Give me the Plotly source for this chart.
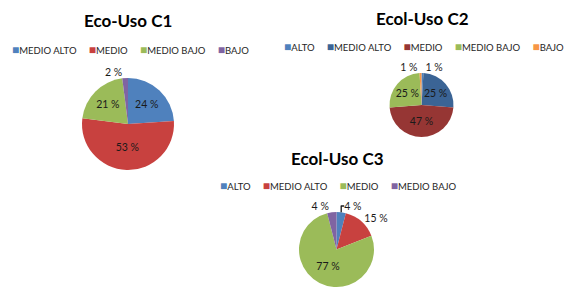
import plotly.graph_objects as go

# ---- data ----
c1_labels = ["MEDIO ALTO", "MEDIO", "MEDIO BAJO", "BAJO"]
c1_values = [24, 53, 21, 2]
c1_colors = ["#4F81BD", "#C8413F", "#9BBB59", "#8064A2"]

c2_labels = ["ALTO", "MEDIO ALTO", "MEDIO", "MEDIO BAJO", "BAJO"]
c2_values = [1, 25, 47, 25, 1]
c2_colors = ["#4F81BD", "#3B6495", "#963634", "#9BBB59", "#F79646"]

c3_labels = ["ALTO", "MEDIO ALTO", "MEDIO", "MEDIO BAJO"]
c3_values = [4, 15, 77, 4]
c3_colors = ["#4F81BD", "#C8413F", "#9BBB59", "#8064A2"]

titles = ["Eco-Uso C1", "Ecol-Uso C2", "Ecol-Uso C3"]

FONT = "Lato"
W, H = 574, 298


def dom(cx, cy, r):
    return dict(x=[(cx - r) / W, (cx + r) / W], y=[1 - (cy + r) / H, 1 - (cy - r) / H])


def pie(labels, values, colors, domain, small_out=5):
    pos = ["outside" if v < small_out else "inside" for v in values]
    return go.Pie(
        labels=labels, values=values, sort=False, direction="clockwise", rotation=0,
        marker=dict(colors=colors, line=dict(width=0)),
        text=[f"{v} %" for v in values], textinfo="text", textposition=pos,
        insidetextorientation="horizontal",
        textfont=dict(family=FONT, size=10.5, color="#1a1a1a"),
        insidetextfont=dict(family=FONT, size=10.5, color="#1a1a1a"),
        outsidetextfont=dict(family=FONT, size=10.5, color="#1a1a1a"),
        domain=domain, showlegend=False, hoverinfo="label+percent",
    )


fig = go.Figure()
fig.add_trace(pie(c1_labels, c1_values, c1_colors, dom(128, 124, 46)))
fig.add_trace(pie(c2_labels, c2_values, c2_colors, dom(421.5, 105, 32)))
fig.add_trace(pie(c3_labels, c3_values, c3_colors, dom(336.5, 249.5, 37.5), small_out=20))

GAP = "\u00a0" * 5


def legend_text(labels, colors):
    items = [f'<span style="color:{c};font-size:12px">■</span>{l}' for l, c in zip(labels, colors)]
    return GAP.join(items)


annots = []
# titles
for t, (x, y) in zip(titles, [(128, 21), (422, 19), (337, 158)]):
    annots.append(dict(text=f"<b>{t}</b>", x=x / W, y=1 - y / H, xref="paper", yref="paper",
                       xanchor="center", yanchor="middle", showarrow=False,
                       font=dict(family=FONT, size=17, color="#000000")))
# legends
for (labs, cols), (x, y) in zip([(c1_labels, c1_colors), (c2_labels, c2_colors), (c3_labels, c3_colors)],
                                [(130, 49), (424, 47), (338, 185)]):
    annots.append(dict(text=legend_text(labs, cols), x=x / W, y=1 - y / H, xref="paper", yref="paper",
                       xanchor="center", yanchor="middle", showarrow=False,
                       font=dict(family=FONT, size=9.5, color="#262626")))

fig.update_layout(
    width=W, height=H, margin=dict(l=0, r=0, t=0, b=0),
    paper_bgcolor="white", plot_bgcolor="white",
    annotations=annots, showlegend=False,
)

fig.write_html("out.html", config={"displayModeBar": False},
               post_script="document.body.style.margin='0px';")
